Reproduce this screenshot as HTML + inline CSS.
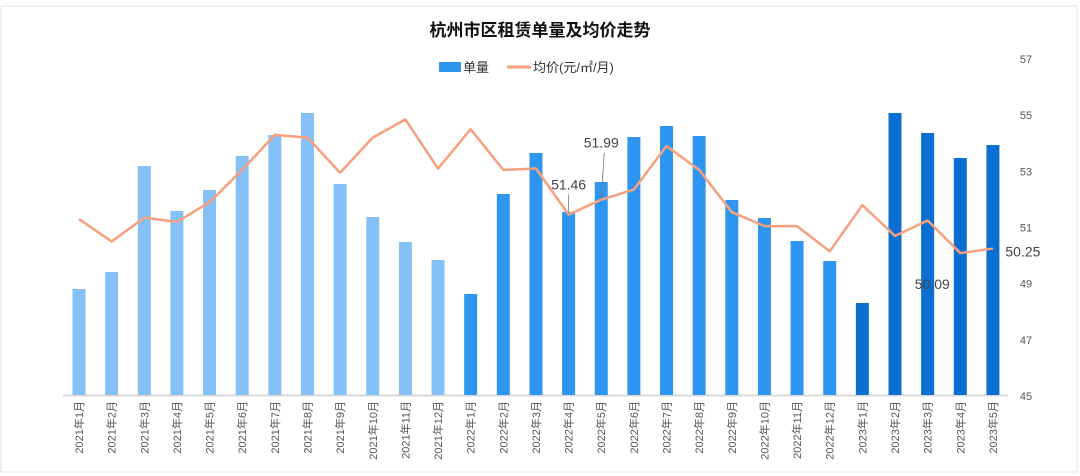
<!DOCTYPE html>
<html><head><meta charset="utf-8"><style>
body{margin:0;background:#fff;}
svg{display:block;font-family:"Liberation Sans","Noto Sans CJK SC",sans-serif;}
</style></head><body>
<svg id="c" width="1080" height="476" viewBox="0 0 1080 476">
<rect x="1" y="6" width="1076" height="466" fill="#fff" stroke="#e2e2e2"/>
<text x="540" y="36" text-anchor="middle" font-size="17" font-weight="bold" fill="#111">杭州市区租赁单量及均价走势</text>
<g>
<rect x="439" y="62" width="22" height="10" fill="#2e95f0"/>
<text x="463" y="72" font-size="13" fill="#333">单量</text>
<line x1="507" y1="67" x2="531" y2="67" stroke="#f7a07e" stroke-width="3"/>
<text x="533" y="72" font-size="13" fill="#333">均价(元/㎡/月)</text>
</g>
<line x1="63" y1="395.5" x2="1008" y2="395.5" stroke="#d9d9d9" stroke-width="2"/>
<g id="bars"></g><g id="line"></g><g id="xt"></g><g id="yt"></g><g id="lbl"></g>
</svg>
<script>
const categories=["2021年1月","2021年2月","2021年3月","2021年4月","2021年5月","2021年6月","2021年7月","2021年8月","2021年9月","2021年10月","2021年11月","2021年12月","2022年1月","2022年2月","2022年3月","2022年4月","2022年5月","2022年6月","2022年7月","2022年8月","2022年9月","2022年10月","2022年11月","2022年12月","2023年1月","2023年2月","2023年3月","2023年4月","2023年5月"];
const volume=[106,123,229,184,205,239,260,282,211,178,153,135,101,201,242,183,213,258,269,259,195,177,154,134,92,282,262,237,250];
const price=[51.3,50.5,51.35,51.2,51.9,53.05,54.3,54.2,52.95,54.2,54.85,53.1,54.5,53.05,53.1,51.46,51.99,52.35,53.9,53.05,51.55,51.05,51.05,50.15,51.8,50.7,51.25,50.09,50.25];
const priceTicks=[45,47,49,51,53,55,57];
const labeled=[15,16,27,28];
const NS="http://www.w3.org/2000/svg";
const x0=79,step=32.64,base=395;
const xs=i=>x0+i*step;
const yv=v=>base-v*(282/282);
const yp=v=>396-(v-45)*(337/12);
function mk(t,a,p,txt){const e=document.createElementNS(NS,t);for(const k in a)e.setAttribute(k,a[k]);if(txt!==undefined)e.textContent=txt;document.getElementById(p).appendChild(e);return e;}
categories.forEach((c,i)=>{
 const col=i<12?"#85c1f8":(i<24?"#2e95f0":"#0a6fd0");
 const r=mk("rect",{x:xs(i)-6.5,y:yv(volume[i]),width:13,height:base-yv(volume[i]),fill:col},"bars");
 
 
 const t=mk("text",{x:0,y:0,transform:`translate(${xs(i)+4},401) rotate(-90)`,"text-anchor":"end","font-size":"11",fill:"#555"},"xt",c);
 
 
});
const pts=price.map((v,i)=>xs(i)+","+yp(v)).join(" ");
const pl=mk("polyline",{points:pts,fill:"none",stroke:"#f7a07e","stroke-width":"2.5","stroke-linejoin":"round"},"line");


priceTicks.forEach(v=>{
 const t=mk("text",{x:1026,y:yp(v)+4,"text-anchor":"middle","font-size":"11",fill:"#555"},"yt",String(v));
 
 
});
const offs={15:[0,-30],16:[0,-57],27:[-28,31],28:[30,3]};
labeled.forEach(i=>{
 const o=offs[i];
 const t=mk("text",{x:xs(i)+o[0],y:yp(price[i])+o[1]+5,"text-anchor":"middle","font-size":"14",fill:"#444"},"lbl",price[i].toFixed(2));
 
 
 if(i===15||i===16){
  const l=mk("line",{x1:xs(i),y1:yp(price[i])-2,x2:xs(i)+(i===16?3:0),y2:yp(price[i])+o[1]+10,stroke:"#777","stroke-width":"0.8"},"lbl");
  
  
 }
});
</script>
</body></html>
